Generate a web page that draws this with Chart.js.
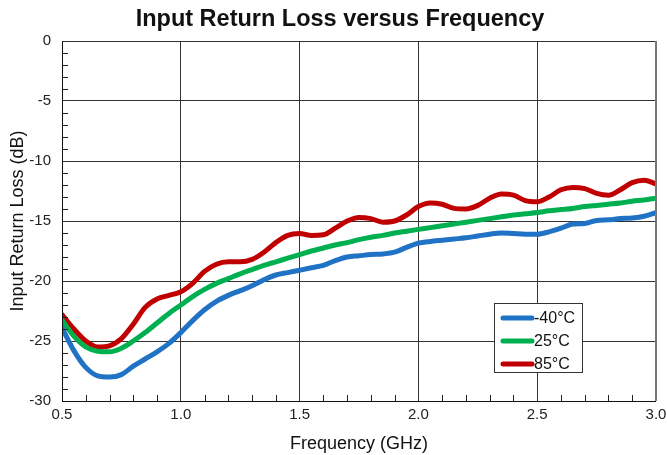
<!DOCTYPE html>
<html>
<head>
<meta charset="utf-8">
<script src="https://cdn.jsdelivr.net/npm/chart.js@4"></script>
<style>
html,body{margin:0;padding:0;background:#fff;}
#wrap{width:667px;height:455px;position:relative;}
</style>
</head>
<body>
<div id="wrap"><canvas id="c" width="667" height="455"></canvas></div>
<script>
const freqs = [0.50,0.55,0.60,0.65,0.70,0.75,0.80,0.85,0.90,0.95,1.00,1.05,1.10,1.15,1.20,1.25,1.30,1.35,1.40,1.45,1.50,1.55,1.60,1.65,1.70,1.75,1.80,1.85,1.90,1.95,2.00,2.05,2.10,2.15,2.20,2.25,2.30,2.35,2.40,2.45,2.50,2.55,2.60,2.65,2.70,2.75,2.80,2.85,2.90,2.95,3.00];
const rlMinus40 = [-23.9,-25.8,-27.2,-27.9,-28.0,-27.8,-27.1,-26.5,-25.9,-25.2,-24.3,-23.3,-22.4,-21.7,-21.2,-20.8,-20.4,-19.9,-19.5,-19.3,-19.1,-18.9,-18.7,-18.3,-18.0,-17.9,-17.8,-17.75,-17.6,-17.2,-16.85,-16.7,-16.6,-16.5,-16.4,-16.25,-16.1,-16.0,-16.05,-16.1,-16.1,-15.9,-15.6,-15.25,-15.2,-14.95,-14.9,-14.8,-14.75,-14.6,-14.3];
const rl25 = [-23.25,-24.6,-25.5,-25.85,-25.9,-25.6,-25.0,-24.3,-23.5,-22.7,-22.0,-21.3,-20.7,-20.2,-19.8,-19.4,-19.05,-18.7,-18.4,-18.1,-17.8,-17.5,-17.25,-17.0,-16.8,-16.55,-16.35,-16.2,-16.0,-15.85,-15.7,-15.55,-15.4,-15.25,-15.1,-14.95,-14.8,-14.65,-14.5,-14.4,-14.3,-14.15,-14.05,-13.95,-13.8,-13.7,-13.6,-13.5,-13.35,-13.25,-13.1];
const rl85 = [-22.8,-24.0,-25.0,-25.5,-25.4,-24.8,-23.6,-22.2,-21.5,-21.2,-20.9,-20.2,-19.2,-18.6,-18.4,-18.4,-18.2,-17.6,-16.8,-16.2,-16.05,-16.2,-16.15,-15.6,-15.0,-14.7,-14.8,-15.1,-15.0,-14.5,-13.8,-13.5,-13.6,-13.95,-14.0,-13.7,-13.1,-12.75,-12.85,-13.3,-13.4,-13.0,-12.4,-12.2,-12.3,-12.7,-12.85,-12.4,-11.8,-11.6,-11.9];
const seriesLabels = ['-40°C','25°C','85°C'];
const seriesColors = ['#1F72C4','#00B050','#C00000'];
const xTicks = [0.5,1.0,1.5,2.0,2.5,3.0];
const yTicks = [0,-5,-10,-15,-20,-25,-30];
const chartTitle = 'Input Return Loss versus Frequency';
const FONT = '"Liberation Sans", Arial, sans-serif';

function pts(vals){ return freqs.map((f,i)=>({x:f,y:vals[i]})); }

const minorTicks = {
  id:'minorTicks',
  afterDraw(chart){
    const ctx = chart.ctx, xs = chart.scales.x, ys = chart.scales.y, a = chart.chartArea;
    ctx.save();
    ctx.strokeStyle = '#222';
    ctx.lineWidth = 1;
    ctx.beginPath();
    for(let v=0; v>=-30; v-=1){
      if(v%5===0) continue;
      const y = Math.round(ys.getPixelForValue(v))+0.5;
      ctx.moveTo(a.left, y); ctx.lineTo(a.left+6, y);
    }
    for(let k=5; k<=30; k++){
      if(k%5===0) continue;
      const x = Math.round(xs.getPixelForValue(k/10))+0.5;
      ctx.moveTo(x, a.bottom); ctx.lineTo(x, a.bottom-6);
    }
    ctx.stroke();
    ctx.strokeStyle='#111';
    ctx.beginPath();
    ctx.moveTo(a.left+0.5,a.top); ctx.lineTo(a.left+0.5,a.bottom);
    ctx.moveTo(a.left,a.bottom+0.5); ctx.lineTo(a.right,a.bottom+0.5);
    ctx.stroke();
    ctx.strokeStyle='#777'; ctx.lineWidth=2;
    ctx.beginPath();
    ctx.moveTo(a.right,a.top); ctx.lineTo(a.right,a.bottom);
    ctx.stroke();
    ctx.fillStyle='#111';
    ctx.font='bold 23.5px '+FONT;
    ctx.textAlign='center'; ctx.textBaseline='alphabetic';
    ctx.fillText(chartTitle, 340, 26);
    ctx.restore();
  }
};

const boxLegend = {
  id:'boxLegend',
  afterDraw(chart){
    const ctx = chart.ctx, xs = chart.scales.x, ys = chart.scales.y;
    const left = Math.round(xs.getPixelForValue(2.32)), top = Math.round(ys.getPixelForValue(-21.85));
    const w = 88, h = 69;
    ctx.save();
    ctx.fillStyle='#fff';
    ctx.fillRect(left,top,w,h);
    ctx.strokeStyle='#333'; ctx.lineWidth=1;
    ctx.strokeRect(left+0.5,top+0.5,w,h);
    ctx.font='16px '+FONT;
    ctx.textBaseline='middle';
    chart.data.datasets.forEach((ds,i)=>{
      const y = top + 15 + i*23;
      ctx.strokeStyle = ds.borderColor; ctx.lineWidth=5; ctx.lineCap='round';
      ctx.beginPath(); ctx.moveTo(left+9,y); ctx.lineTo(left+38,y); ctx.stroke();
      ctx.fillStyle='#111';
      ctx.fillText(ds.label, left+40, y+1);
    });
    ctx.restore();
  }
};

new Chart(document.getElementById('c'), {
  type:'line',
  data:{
    datasets:[
      {label:seriesLabels[0], data:pts(rlMinus40), borderColor:seriesColors[0]},
      {label:seriesLabels[1], data:pts(rl25), borderColor:seriesColors[1]},
      {label:seriesLabels[2], data:pts(rl85), borderColor:seriesColors[2]}
    ].map(d=>Object.assign(d,{borderWidth:5, pointRadius:0, tension:0.4, cubicInterpolationMode:'monotone', fill:false, borderCapStyle:'round', borderJoinStyle:'round'}))
  },
  options:{
    responsive:false,
    animation:false,
    devicePixelRatio:1,
    layout:{padding:{left:0,right:11,top:41,bottom:0}},
    plugins:{
      legend:{display:false},
      tooltip:{enabled:false},
      title:{display:false}
    },
    scales:{
      x:{type:'linear', min:0.5, max:3.0,
        afterBuildTicks(s){ s.ticks = xTicks.map(v=>({value:v})); },
        afterFit(s){ s.height = 54; s.paddingLeft = 0; s.paddingRight = 0; },
        grid:{color:'#333', lineWidth:1, drawTicks:false},
        border:{display:false},
        ticks:{padding:5, color:'#222', font:{family:FONT, size:15}, callback:v=>Number(v).toFixed(1)},
        title:{display:true, text:'Frequency (GHz)', color:'#111', padding:{top:3,bottom:0}, font:{family:FONT, size:18}}
      },
      y:{min:-30, max:0,
        afterBuildTicks(s){ s.ticks = yTicks.map(v=>({value:v})); },
        afterFit(s){ s.width = 62; s.paddingTop = 0; s.paddingBottom = 0; },
        grid:{color:'#333', lineWidth:1, drawTicks:false},
        border:{display:false},
        ticks:{padding:11, color:'#222', font:{family:FONT, size:15}},
        title:{display:true, text:'Input Return Loss (dB)', color:'#111', padding:{top:7,bottom:0}, font:{family:FONT, size:18}}
      }
    }
  },
  plugins:[minorTicks, boxLegend]
});
</script>
</body>
</html>
